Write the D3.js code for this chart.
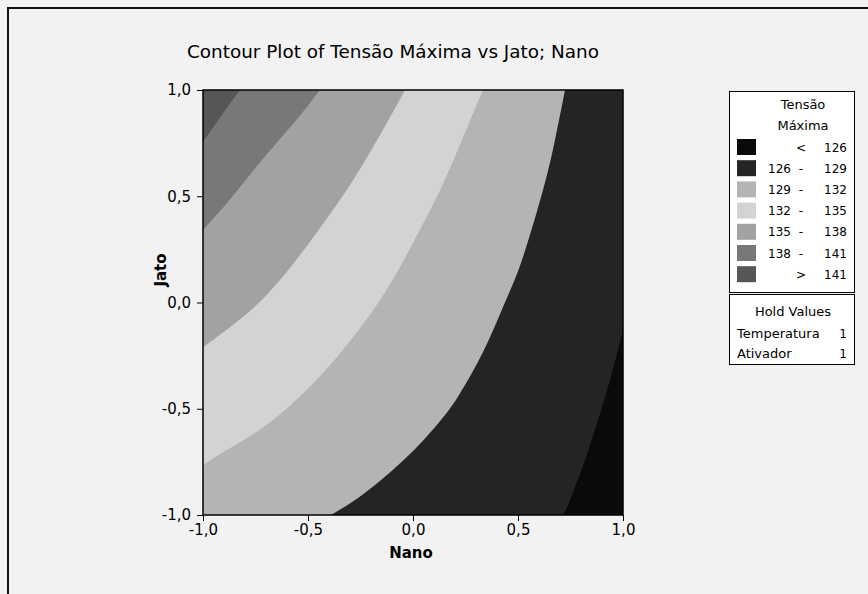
<!DOCTYPE html>
<html>
<head>
<meta charset="utf-8">
<script src="https://cdn.jsdelivr.net/npm/d3@7"></script>
<style>
  html, body { margin: 0; padding: 0; background: #f2f2f2; }
  svg { display: block; font-family: "DejaVu Sans", sans-serif; }
</style>
</head>
<body>
<svg id="chart"></svg>
<script>
// contour levels and legend
const levels = [126, 129, 132, 135, 138, 141];
const legendLabels = [["", "<", "126"], ["126", "-", "129"], ["129", "-", "132"],
  ["132", "-", "135"], ["135", "-", "138"], ["138", "-", "141"], ["", ">", "141"]];
const holdNames = ["Temperatura", "Ativador"];
const holdValues = [1, 1];
const xTicks = [-1, -0.5, 0, 0.5, 1];
const yTicks = [-1, -0.5, 0, 0.5, 1];

// contour lines, [Nano, Jato]
const contour126 = [[1.0, -0.129], [0.938, -0.365], [0.881, -0.553], [0.819, -0.741], [0.748, -0.929], [0.714, -1.0]];
const contour129 = [[0.724, 1.0], [0.676, 0.765], [0.619, 0.529], [0.519, 0.2], [0.443, 0.012], [0.338, -0.224],
  [0.219, -0.435], [0.133, -0.553], [0.005, -0.694], [-0.152, -0.835], [-0.276, -0.929], [-0.39, -1.0]];
const contour132 = [[0.333, 1.0], [0.233, 0.765], [0.129, 0.529], [-0.005, 0.271], [-0.157, 0.012],
  [-0.395, -0.294], [-0.667, -0.553], [-0.886, -0.694], [-1.0, -0.765]];
const contour135 = [[-0.038, 1.0], [-0.157, 0.788], [-0.3, 0.553], [-0.467, 0.318], [-0.633, 0.106],
  [-0.8, -0.06], [-1.0, -0.21]];
const contour138 = [[-0.443, 1.0], [-0.576, 0.835], [-0.719, 0.671], [-0.862, 0.496], [-1.0, 0.341]];
const contour141 = [[-0.824, 1.0], [-0.914, 0.878], [-1.0, 0.755]];

const bandColors = ["#0a0a0a", "#242424", "#b4b4b4", "#d3d3d3", "#a2a2a2", "#787878", "#565656"];

const width = 868, height = 594;
const plot = { left: 203, right: 623, top: 90, bottom: 515 };

const svg = d3.select("#chart").attr("width", width).attr("height", height);

svg.append("rect").attr("width", width).attr("height", height).attr("fill", "#f2f2f2");
// outer frame (runs off the right and bottom)
svg.append("rect")
  .attr("x", 8).attr("y", 8).attr("width", width + 20).attr("height", height + 20)
  .attr("fill", "none").attr("stroke", "#111").attr("stroke-width", 2);

const x = d3.scaleLinear().domain([-1, 1]).range([plot.left, plot.right]);
const y = d3.scaleLinear().domain([-1, 1]).range([plot.bottom, plot.top]);

const comma = d3.formatLocale({ decimal: ",", thousands: ".", grouping: [3], currency: ["", ""], minus: "-" }).format(".1f");

const g = svg.append("g");

// base band (< 126)
g.append("rect")
  .attr("x", x(-1)).attr("y", y(1))
  .attr("width", x(1) - x(-1)).attr("height", y(-1) - y(1))
  .attr("fill", bandColors[0]);

const curve = d3.line().x(d => x(d[0])).y(d => y(d[1])).curve(d3.curveNatural);
const corner = pts => pts.map(p => `L${x(p[0])},${y(p[1])}`).join("");

// region above each level, closed through the upper-left corners
const regions = [
  [contour126, [[-1, -1], [-1, 1], [1, 1]]],
  [contour129, [[-1, -1], [-1, 1]]],
  [contour132, [[-1, 1]]],
  [contour135, [[-1, 1]]],
  [contour138, [[-1, 1]]],
  [contour141, [[-1, 1]]]
];

regions.forEach((r, i) => {
  g.append("path")
    .attr("d", curve(r[0]) + corner(r[1]) + "Z")
    .attr("fill", bandColors[i + 1]);
});

// plot border
svg.append("rect")
  .attr("x", plot.left).attr("y", plot.top)
  .attr("width", plot.right - plot.left).attr("height", plot.bottom - plot.top)
  .attr("fill", "none").attr("stroke", "#000").attr("stroke-width", 1.5);

const xAxis = svg.append("g")
  .attr("transform", `translate(0,${plot.bottom})`)
  .call(d3.axisBottom(x).tickValues(xTicks).tickFormat(comma).tickSize(6).tickPadding(3));
const yAxis = svg.append("g")
  .attr("transform", `translate(${plot.left},0)`)
  .call(d3.axisLeft(y).tickValues(yTicks).tickFormat(comma).tickSize(6).tickPadding(6));

[xAxis, yAxis].forEach(a => {
  a.select(".domain").remove();
  a.selectAll("line").attr("stroke", "#000");
  a.selectAll("text").attr("font-size", 15).attr("fill", "#000")
    .attr("font-family", "DejaVu Sans, sans-serif");
});

svg.append("text")
  .attr("x", 393).attr("y", 58)
  .attr("text-anchor", "middle").attr("font-size", 18.4)
  .text("Contour Plot of Tensão Máxima vs Jato; Nano");

svg.append("text")
  .attr("x", 411).attr("y", 558)
  .attr("text-anchor", "middle").attr("font-size", 15).attr("font-weight", "bold")
  .text("Nano");

svg.append("text")
  .attr("transform", "translate(166,270) rotate(-90)")
  .attr("text-anchor", "middle").attr("font-size", 15).attr("font-weight", "bold")
  .text("Jato");

// legend
const lg = svg.append("g").attr("font-size", 12);
lg.append("rect").attr("x", 729.5).attr("y", 91.5).attr("width", 125).attr("height", 201)
  .attr("fill", "#fff").attr("stroke", "#000");
lg.append("text").attr("x", 803).attr("y", 109).attr("text-anchor", "middle").attr("font-size", 13).text("Tensão");
lg.append("text").attr("x", 803).attr("y", 130).attr("text-anchor", "middle").attr("font-size", 13).text("Máxima");

legendLabels.forEach((lab, i) => {
  const cy = 147 + i * 21.2;
  lg.append("rect").attr("x", 737).attr("y", cy - 8).attr("width", 19).attr("height", 16)
    .attr("fill", bandColors[i]);
  lg.append("text").attr("x", 768).attr("y", cy + 4.5).text(lab[0]);
  lg.append("text").attr("x", 801).attr("y", cy + 4.5).attr("text-anchor", "middle").text(lab[1]);
  lg.append("text").attr("x", 847).attr("y", cy + 4.5).attr("text-anchor", "end").text(lab[2]);
});

lg.append("rect").attr("x", 729.5).attr("y", 294.5).attr("width", 125).attr("height", 70)
  .attr("fill", "#fff").attr("stroke", "#000");
lg.append("text").attr("x", 793).attr("y", 316).attr("text-anchor", "middle").attr("font-size", 13).text("Hold Values");
holdNames.forEach((n, i) => {
  const ty = 338 + i * 20;
  lg.append("text").attr("x", 737).attr("y", ty).attr("font-size", 13).text(n);
  lg.append("text").attr("x", 847).attr("y", ty).attr("text-anchor", "end").text(holdValues[i]);
});
</script>
</body>
</html>
